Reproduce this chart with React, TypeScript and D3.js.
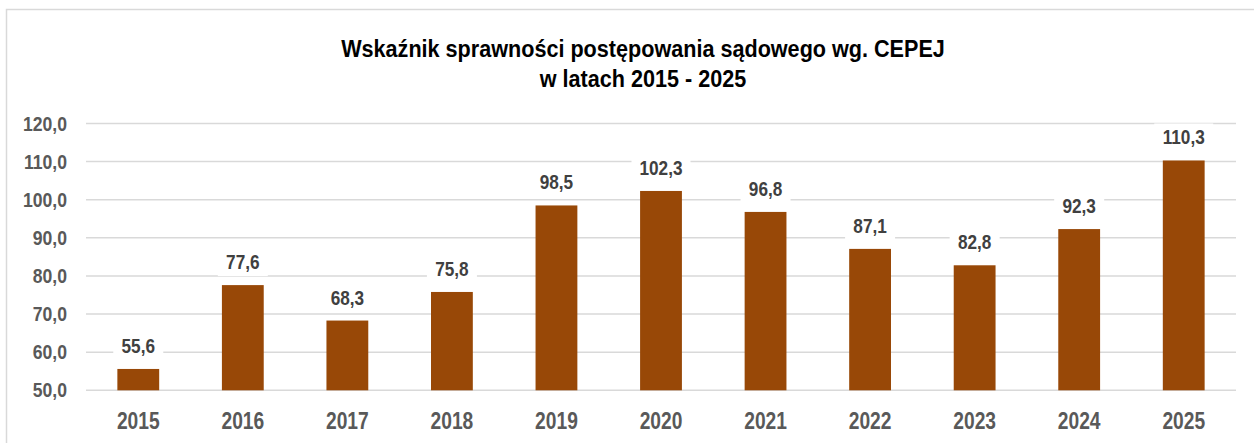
import React, { useRef, useEffect } from 'react';
import * as d3 from 'd3';

const years = ['2015', '2016', '2017', '2018', '2019', '2020', '2021', '2022', '2023', '2024', '2025'];
const values = [55.6, 77.6, 68.3, 75.8, 98.5, 102.3, 96.8, 87.1, 82.8, 92.3, 110.3];
const yTicks = [50, 60, 70, 80, 90, 100, 110, 120];
const titleLines = ['Wskaźnik sprawności postępowania sądowego wg. CEPEJ', 'w latach 2015 - 2025'];

const W = 1254;
const H = 443;
const FONT = '"Liberation Sans", Arial, sans-serif';

const fmt = (v: number) => v.toFixed(1).replace('.', ',');

// narrow-looking text: squeeze horizontally since Arial Narrow is not available
const narrowText = (
  parent: d3.Selection<any, any, any, any>,
  x: number, y: number, text: string,
  opts: { size: number; sx: number; fill: string; anchor: string }
) => {
  const g = parent.append('g').attr('transform', `translate(${x},${y}) scale(${opts.sx},1)`);
  g.append('text')
    .attr('text-anchor', opts.anchor)
    .attr('font-family', FONT)
    .attr('font-weight', 'bold')
    .attr('font-size', opts.size)
    .attr('fill', opts.fill)
    .text(text);
  return g;
};

const App: React.FC = () => {
  const svgRef = useRef<SVGSVGElement>(null);

  useEffect(() => {
    if (!svgRef.current) return;
    const svg = d3.select(svgRef.current);
    svg.selectAll('*').remove();

    const x = d3.scaleBand<string>().domain(years).range([86, 1236]).paddingInner(0.6).paddingOuter(0.3);
    const y = d3.scaleLinear().domain([50, 120]).range([390.3, 123.5]);

    // chart border
    svg.append('rect')
      .attr('x', 6.5).attr('y', 9.5)
      .attr('width', W + 20).attr('height', H + 20)
      .attr('fill', 'white')
      .attr('stroke', '#d9d9d9')
      .attr('stroke-width', 1.5);

    // title
    titleLines.forEach((t, i) => {
      narrowText(svg, 643, 57 + i * 30, t, { size: 24, sx: 0.9, fill: '#000', anchor: 'middle' });
    });

    // gridlines
    svg.append('g')
      .selectAll('line')
      .data(yTicks)
      .enter()
      .append('line')
      .attr('x1', 86).attr('x2', 1236)
      .attr('y1', d => y(d)).attr('y2', d => y(d))
      .attr('stroke', '#d9d9d9')
      .attr('stroke-width', 1.5);

    // y tick labels
    const yAxis = svg.append('g');
    yTicks.forEach(t => {
      narrowText(yAxis, 67, y(t) + 7, fmt(t), { size: 20, sx: 0.88, fill: '#595959', anchor: 'end' });
    });

    // bars
    svg.append('g')
      .selectAll('rect')
      .data(values)
      .enter()
      .append('rect')
      .attr('x', (d, i) => x(years[i])!)
      .attr('y', d => y(d))
      .attr('width', x.bandwidth())
      .attr('height', d => y(50) - y(d))
      .attr('fill', '#984807');

    // data labels with white background
    const labels = svg.append('g');
    values.forEach((v, i) => {
      const cx = x(years[i])! + x.bandwidth() / 2;
      const cy = y(v) - 23;
      const w = fmt(v).length * 9 + 14;
      labels.append('rect')
        .attr('x', cx - w / 2).attr('y', cy - 14)
        .attr('width', w).attr('height', 28)
        .attr('fill', 'white');
      narrowText(labels, cx, cy + 7, fmt(v), { size: 20, sx: 0.86, fill: '#404040', anchor: 'middle' });
    });

    // x labels
    const xAxis = svg.append('g');
    years.forEach(yr => {
      narrowText(xAxis, x(yr)! + x.bandwidth() / 2, 429, yr, { size: 24, sx: 0.8, fill: '#595959', anchor: 'middle' });
    });
  }, []);

  return <svg ref={svgRef} width={W} height={H} style={{ position: 'absolute', left: 0, top: 0 }} />;
};

export default App;
